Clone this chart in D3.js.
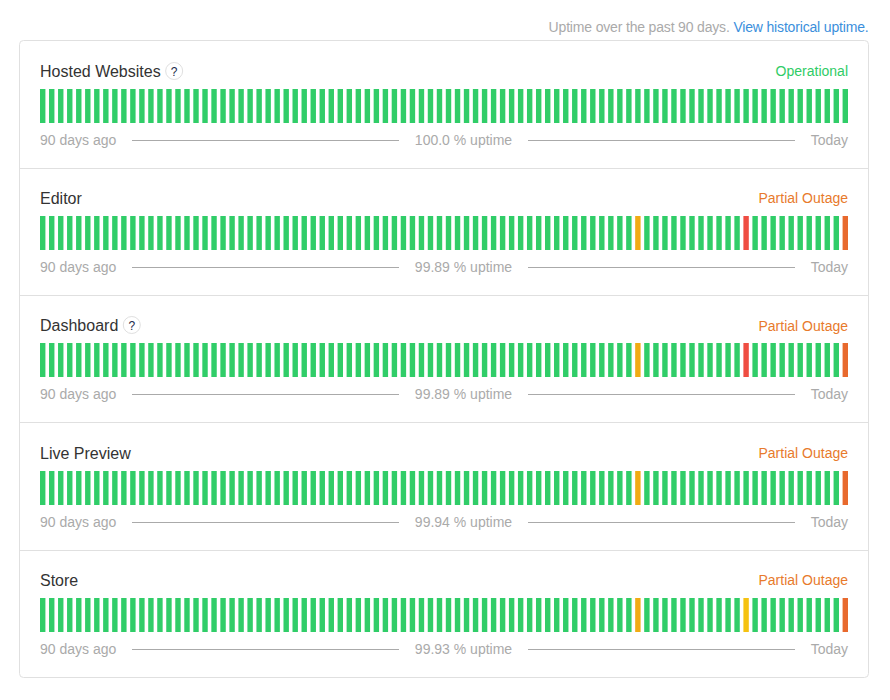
<!DOCTYPE html>
<html>
<head>
<meta charset="utf-8">
<style>
html,body{margin:0;padding:0;background:#fff}
svg{display:block}
text{font-family:"Liberation Sans",Arial,sans-serif}
</style>
<script src="https://cdn.jsdelivr.net/npm/d3@7/dist/d3.min.js"></script>
</head>
<body>
<svg id="c" width="890" height="700"></svg>
<script>
const components = ["Hosted Websites","Editor","Dashboard","Live Preview","Store"];
const hasHelp = [true,false,true,false,false];
const statuses = ["Operational","Partial Outage","Partial Outage","Partial Outage","Partial Outage"];
const uptimes = ["100.0 % uptime","99.89 % uptime","99.89 % uptime","99.94 % uptime","99.93 % uptime"];
const dayCount = 90;
// days that are not fully operational: [day index, level]
const incidents = [
  [],
  [[66,"minor"],[78,"major"],[89,"partial"]],
  [[66,"minor"],[78,"major"],[89,"partial"]],
  [[66,"minor"],[89,"partial"]],
  [[66,"minor"],[78,"light"],[89,"partial"]]
];
const levelColor = {ok:"#30cd68",minor:"#f1ab13",major:"#ef4d42",partial:"#e8692d",light:"#f5c211"};
const statusColor = {"Operational":"#2fcc66","Partial Outage":"#e87a2c"};
const rowTops = [41,168,295,423,550];
const dividerYs = [168.5,295.5,422.5,550.5];
const statusDy = [0,0,1,0,0];

const svg = d3.select("#c");
const x = d3.scaleLinear().domain([0,448]).range([40,848]);
const barW = x(3)-x(0);

const head = svg.append("text").attr("x",868.5).attr("y",32).attr("text-anchor","end")
  .attr("font-size",14).attr("letter-spacing",-0.17).attr("fill","#aaaaaa");
head.append("tspan").text("Uptime over the past 90 days. ");
head.append("tspan").attr("fill","#3b8fdc").text("View historical uptime.");

svg.append("rect").attr("x",19.5).attr("y",40.5).attr("width",849).attr("height",637)
  .attr("rx",4).attr("fill","#fff").attr("stroke","#e0e0e0");

svg.selectAll("line.divider").data(dividerYs).join("line").attr("class","divider")
  .attr("x1",20).attr("x2",868).attr("y1",d=>d).attr("y2",d=>d).attr("stroke","#e0e0e0");

const rows = svg.selectAll("g.row").data(components).join("g").attr("class","row")
  .attr("transform",(d,i)=>`translate(0,${rowTops[i]})`);

rows.append("text").attr("class","name").attr("x",40).attr("y",36)
  .attr("font-size",16).attr("fill","#333333").text(d=>d);

rows.each(function(d,i){
  if(!hasHelp[i]) return;
  const g = d3.select(this);
  const w = g.select("text.name").node().getComputedTextLength();
  const cx = 40+w+13.5;
  g.append("circle").attr("cx",cx).attr("cy",30).attr("r",8.5)
    .attr("fill","#fff").attr("stroke","#e0e0e0");
  g.append("text").attr("x",cx).attr("y",34.5).attr("text-anchor","middle")
    .attr("font-size",12).attr("fill","#1a2a4a").text("?");
});

rows.append("text").attr("x",848).attr("y",(d,i)=>35+statusDy[i]).attr("text-anchor","end")
  .attr("font-size",14).attr("fill",(d,i)=>statusColor[statuses[i]]).text((d,i)=>statuses[i]);

rows.each(function(d,i){
  const lookup = new Map(incidents[i]);
  const days = d3.range(dayCount).map(k=>({k,level:lookup.get(k)||"ok"}));
  d3.select(this).append("g").selectAll("rect").data(days).join("rect")
    .attr("x",e=>x(e.k*5)).attr("y",48).attr("width",barW).attr("height",34)
    .attr("fill",e=>levelColor[e.level]);
});

const foot = rows.append("g").attr("font-size",14).attr("fill","#aaaaaa");
foot.append("text").attr("x",40).attr("y",104).text("90 days ago");
foot.append("text").attr("x",848).attr("y",104).attr("text-anchor","end").text("Today");
foot.append("text").attr("x",463.5).attr("y",104).attr("text-anchor","middle").text((d,i)=>uptimes[i]);
foot.append("line").attr("x1",132).attr("x2",399).attr("y1",99.5).attr("y2",99.5).attr("stroke","#aaaaaa");
foot.append("line").attr("x1",528).attr("x2",795).attr("y1",99.5).attr("y2",99.5).attr("stroke","#aaaaaa");
</script>
</body>
</html>
